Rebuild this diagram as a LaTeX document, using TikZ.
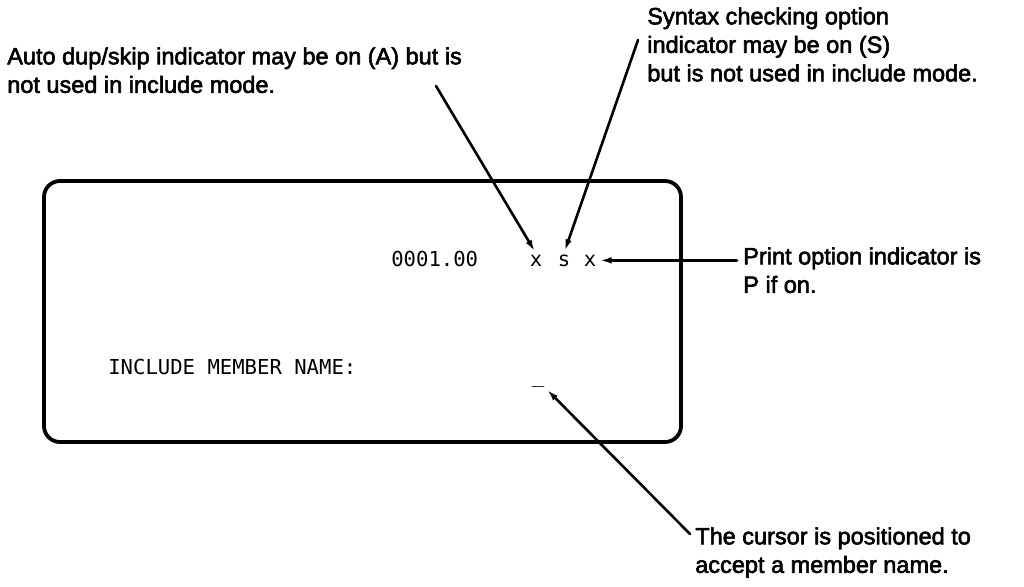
\documentclass[tikz,border=0pt]{standalone}
\usepackage{fontspec}
\setmainfont{Liberation Sans}
\newfontfamily\notefont{Liberation Sans}[FakeBold=2.5]
\setmonofont{DejaVu Sans Mono}
\usetikzlibrary{arrows.meta,positioning}
\tikzset{
  every picture/.style={line width=2.6pt, line cap=round, line join=round,
    >={Latex[length=12pt,width=6.5pt]}},
  % Erläuterungen
  note/.style={font=\notefont\fontsize{23.5}{28.5}\selectfont, align=left, anchor=north west, inner sep=0pt},
  % Bildschirmtext
  scr/.style={font=\ttfamily\fontsize{20.6}{24}\selectfont, inner sep=0pt, anchor=base west},
  screen/.style={line width=3.8pt, rounded corners=16pt},
  ptr/.style={->, shorten >=2pt},
}
\begin{document}
\begin{tikzpicture}[x=1pt, y=-1pt]
  \useasboundingbox (0,0) rectangle (1024,586);
  % Bildschirm
  \draw[screen] (44,181) rectangle (681,442);
  \node[scr] (zeile) at (390,266) {0001.00};
  \node[scr, anchor=base] (dup) at (536,266) {x};
  \node[scr, anchor=base] (syn) at (564,266) {s};
  \node[scr, anchor=base] (prt) at (590,266) {x};
  \node[scr] (incl) at (107,374) {INCLUDE MEMBER NAME:};
  \node[scr, anchor=base] (cur) at (538,382) {\_};
  % Erläuterungen
  \node[note] (tdup) at (6,46) {Auto dup/skip indicator may be on (A) but is\\not used in include mode.};
  \node[note] (tsyn) at (646,6) {Syntax checking option\\indicator may be on (S)\\but is not used in include mode.};
  \node[note] (tprt) at (742,246) {Print option indicator is\\P if on.};
  \node[note] (tcur) at (694,526) {The cursor is positioned to\\accept a member name.};
  % Pfeile
  \coordinate (dupA) at (436,86);
  \coordinate (synA) at (638,40);
  \coordinate (curA) at (690,534);
  \draw[ptr] (dupA) -- (dup.north);
  \draw[ptr] (synA) -- (syn.north);
  \draw[ptr, shorten <=5pt] (tprt.west |- prt.center) -- (prt.east);
  \draw[ptr] (curA) -- (cur.south east);
\end{tikzpicture}
\end{document}
